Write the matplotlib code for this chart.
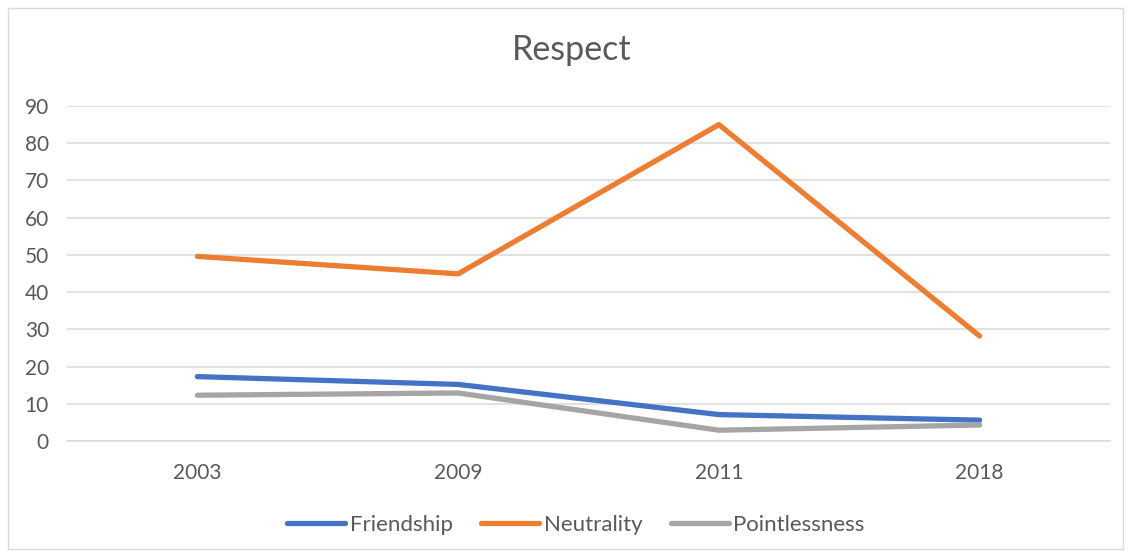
import matplotlib.pyplot as plt
from matplotlib.patches import Rectangle

plt.rcParams['font.family'] = ['Lato', 'DejaVu Sans']

years = ['2003', '2009', '2011', '2018']
friendship = [17.3, 15.2, 7.1, 5.6]
neutrality = [49.6, 44.9, 85.0, 28.2]
pointlessness = [12.3, 12.9, 2.9, 4.3]

text_col = '#595959'
grid_col = '#D9D9D9'

fig = plt.figure(figsize=(11.31, 5.57), dpi=100)
W, H = 1131, 557
ax = fig.add_axes([67 / W, (H - 441) / H, (1110 - 67) / W, (441 - 106) / H])

x = range(len(years))
ax.plot(x, friendship, color='#4472C4', lw=3.8, solid_capstyle='round', label='Friendship')
ax.plot(x, neutrality, color='#ED7D31', lw=3.8, solid_capstyle='round', label='Neutrality')
ax.plot(x, pointlessness, color='#A5A5A5', lw=3.8, solid_capstyle='round', label='Pointlessness')

ax.set_xlim(-0.5, len(years) - 0.5)
ax.set_ylim(0, 90)
ax.set_yticks(range(0, 91, 10))
ax.set_xticks(list(x))
ax.set_xticklabels(years)
ax.grid(axis='y', color=grid_col, lw=1.1)
ax.set_axisbelow(True)
for s in ['top', 'left', 'right']:
    ax.spines[s].set_visible(False)
ax.spines['bottom'].set_color(grid_col)
ax.spines['bottom'].set_linewidth(1.1)
ax.tick_params(axis='y', length=0, pad=13, labelsize=15, labelcolor=text_col)
ax.tick_params(axis='x', length=0, pad=16, labelsize=15, labelcolor=text_col)

fig.text(572 / W, (H - 50) / H, 'Respect', ha='center', va='center', fontsize=24.5, color=text_col)

leg = fig.legend(loc='center', bbox_to_anchor=(576 / W, (H - 525) / H), ncol=3, frameon=False,
                 fontsize=16, handlelength=2.6, handletextpad=0.2, columnspacing=1.3)
for t in leg.get_texts():
    t.set_color(text_col)

fig.patches.append(Rectangle((8 / W, 8 / H), (W - 16) / W, (H - 16) / H, transform=fig.transFigure,
                             fill=False, edgecolor=grid_col, lw=1.0))

fig.savefig('out.png', dpi=100, facecolor='white')
